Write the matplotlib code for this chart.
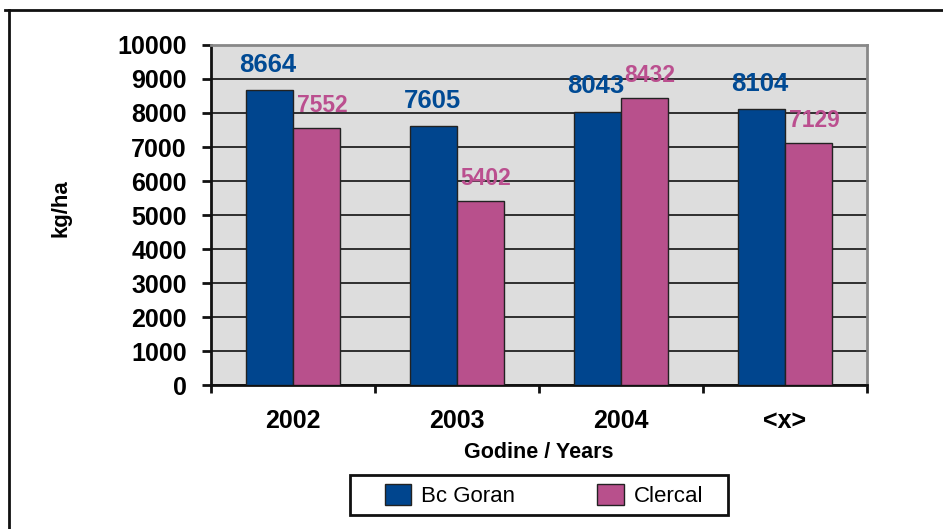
import matplotlib.pyplot as plt
import numpy as np
from matplotlib.lines import Line2D
from matplotlib.patches import Rectangle

# podaci
godine = ['2002', '2003', '2004', '<x>']
bc_goran = [8664, 7605, 8043, 8104]
clercal = [7552, 5402, 8432, 7129]

plava = '#00458e'
roza = '#b8508c'

plt.rcParams['font.family'] = ['Liberation Sans', 'DejaVu Sans']

fig = plt.figure(figsize=(9.43, 5.29), dpi=100)
ax = fig.add_axes([0.2237, 0.272, 0.6956, 0.643])
ax.set_facecolor('#dddddd')

x = np.arange(len(godine))
w = 0.287
b1 = ax.bar(x - w / 2, bc_goran, w, color=plava, edgecolor='#222222', linewidth=1, label='Bc Goran', zorder=3)
b2 = ax.bar(x + w / 2, clercal, w, color=roza, edgecolor='#222222', linewidth=1, label='Clercal', zorder=3)

# oznake vrijednosti
for xi, v in zip(x, bc_goran):
    ax.annotate(str(v), (xi - w / 2, v), xytext=(-1, 10), textcoords='offset points',
                ha='center', va='bottom', color='#004a94', fontsize=18.5, fontweight='bold', zorder=4)
for xi, v in zip(x, clercal):
    ax.annotate(str(v), (xi + w / 2, v), xytext=(4, 8), textcoords='offset points',
                ha='center', va='bottom', color='#bb4f8f', fontsize=16.5, fontweight='bold', zorder=4)

ax.set_ylim(0, 10000)
ax.set_xlim(-0.5, len(godine) - 0.5)
ax.set_yticks(np.arange(0, 10001, 1000))
ax.yaxis.grid(True, color='#111111', linewidth=1.2, zorder=1)
ax.tick_params(axis='y', direction='out', length=6.5, width=2, pad=11, labelsize=18, color='#111111')
for t in ax.get_yticklabels():
    t.set_fontweight('bold')

# x ose: crtice na granicama, nazivi u sredini
ax.set_xticks(np.arange(-0.5, len(godine), 1))
ax.set_xticklabels([])
ax.tick_params(axis='x', which='major', direction='out', length=6, width=2, color='#111111')
ax.set_xticks(x, minor=True)
ax.set_xticklabels(godine, minor=True, fontsize=18, fontweight='bold')
ax.tick_params(axis='x', which='minor', length=0, pad=17)

for s in ['top', 'right']:
    ax.spines[s].set_color('#888888')
    ax.spines[s].set_linewidth(2)
for s in ['left', 'bottom']:
    ax.spines[s].set_color('#111111')
    ax.spines[s].set_linewidth(2)

ax.set_xlabel('Godine / Years', fontsize=15.5, fontweight='bold', labelpad=7)
ax.set_ylabel('kg/ha', fontsize=16, fontweight='bold')
ax.yaxis.set_label_coords(-0.213, 0.52)

# legenda bez okvira, okvir se crta posebno
leg = fig.legend(handles=[b1, b2], loc='center', bbox_to_anchor=(0.577, 0.064), ncol=2,
                 fontsize=16, frameon=False,
                 handlelength=1.2, handleheight=1.1, handletextpad=0.45, columnspacing=3.7)
fig.add_artist(Rectangle((0.371, 0.0265), 0.401, 0.0756, transform=fig.transFigure,
                         fill=False, edgecolor='#111111', linewidth=2))

# okvir slike
fig.add_artist(Line2D([0.005, 1.0], [0.981, 0.981], color='#111111', linewidth=2))
fig.add_artist(Line2D([0.0095, 0.0095], [0.0, 0.981], color='#111111', linewidth=2))

fig.savefig('out.png', dpi=100)
